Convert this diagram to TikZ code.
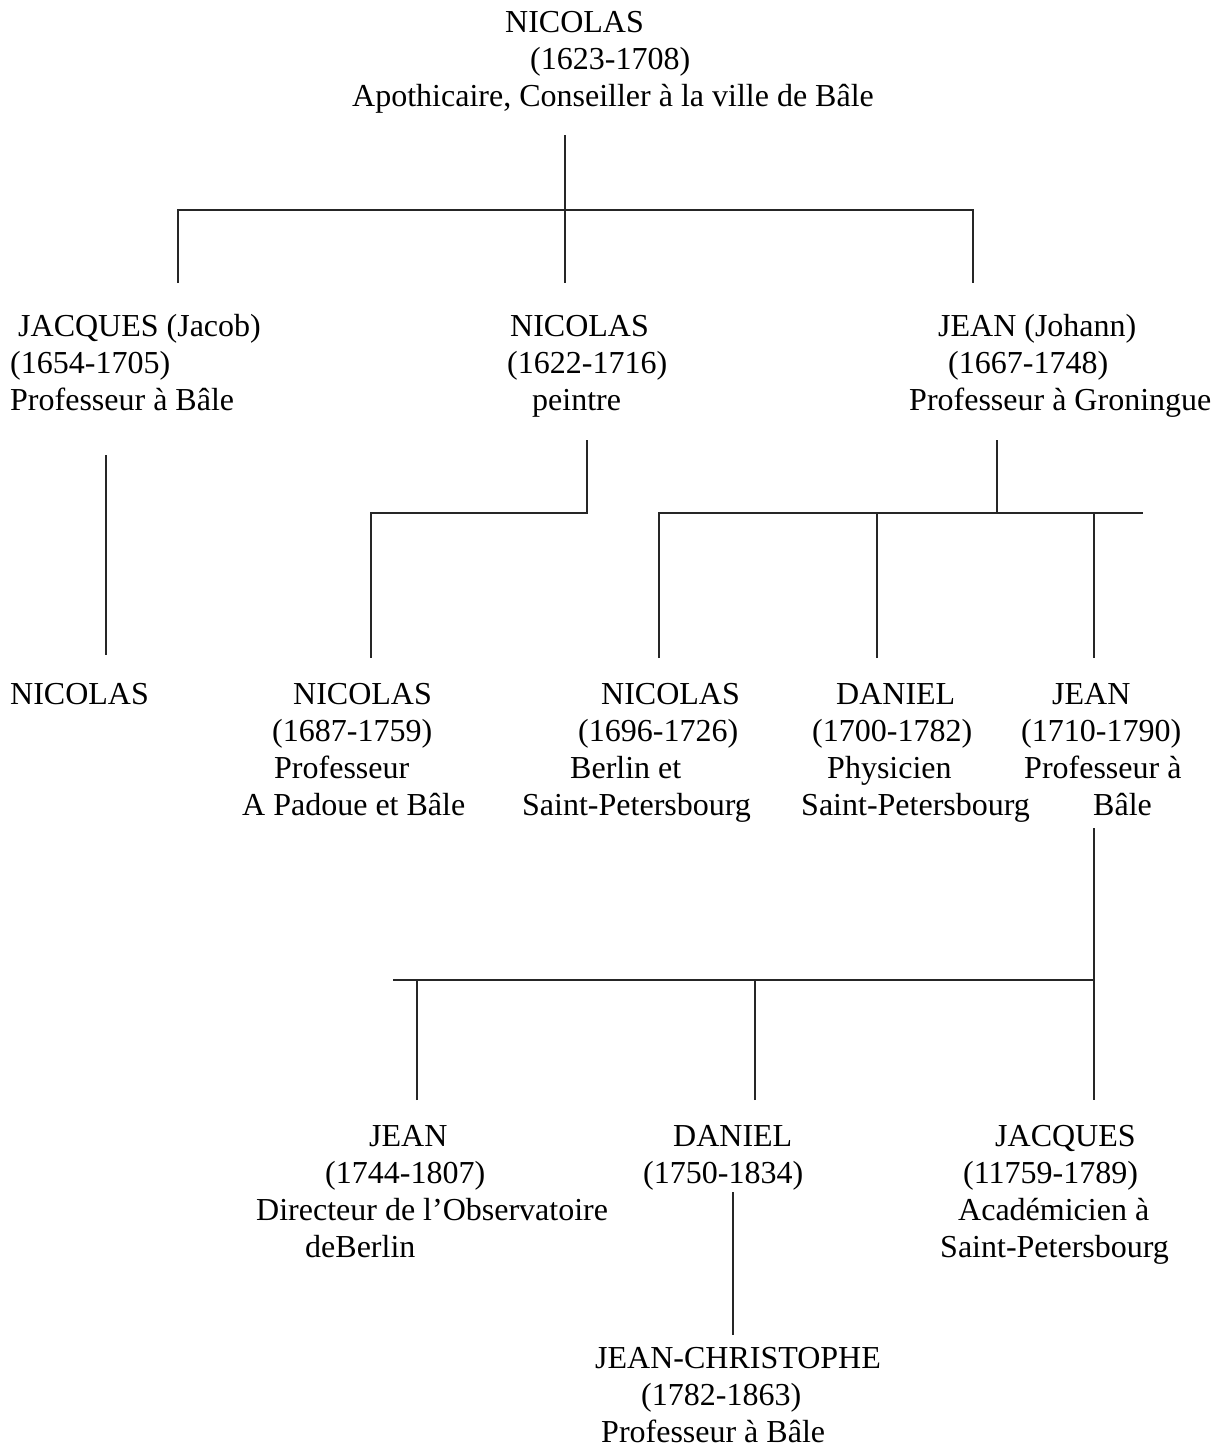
\documentclass[tikz,border=0pt]{standalone}
\usepackage{fontspec}
\setmainfont{Liberation Serif}
\usepackage{tikz}

\begin{document}
\begin{tikzpicture}[x=1pt,y=-1pt,
    person/.style={anchor=base west,align=left,inner sep=0pt,font=\fontsize{32}{37}\selectfont},
    link/.style={line width=1.6pt,draw=black!85}
  ]
    \useasboundingbox (0,0) rectangle (1224,1448);
    % generation 1 (placed at the baseline of the last line)
    \node[person] (top) at (352,106) {\hspace*{153pt}NICOLAS\\\hspace*{178pt}(1623-1708)\\Apothicaire, Conseiller à la ville de Bâle};
    % generation 2
    \node[person] (jacques) at (10,410) {\hspace*{8pt}JACQUES (Jacob)\\(1654-1705)\\Professeur à Bâle};
    \node[person] (nicolas1) at (507,410) {\hspace*{3pt}NICOLAS\\(1622-1716)\\\hspace*{25pt}peintre};
    \node[person] (jean1) at (909,410) {\hspace*{29pt}JEAN (Johann)\\\hspace*{39pt}(1667-1748)\\Professeur à Groningue};
    % generation 3
    \node[person] (nicolas2) at (10,704) {NICOLAS};
    \node[person] (nicolas3) at (242,815) {\hspace*{51pt}NICOLAS\\\hspace*{30pt}(1687-1759)\\\hspace*{32pt}Professeur\\A Padoue et Bâle};
    \node[person] (nicolas4) at (522,815) {\hspace*{79pt}NICOLAS\\\hspace*{56pt}(1696-1726)\\\hspace*{48pt}Berlin et\\Saint-Petersbourg};
    \node[person] (daniel1) at (801,815) {\hspace*{35pt}DANIEL\\\hspace*{11pt}(1700-1782)\\\hspace*{26pt}Physicien\\Saint-Petersbourg};
    \node[person] (jean2) at (1021,815) {\hspace*{31pt}JEAN\\(1710-1790)\\\hspace*{3pt}Professeur à\\\hspace*{72pt}Bâle};
    % generation 4
    \node[person] (jean3) at (256,1257) {\hspace*{113pt}JEAN\\\hspace*{69pt}(1744-1807)\\Directeur de l’Observatoire\\\hspace*{49pt}deBerlin};
    \node[person] (daniel2) at (643,1183) {\hspace*{30pt}DANIEL\\(1750-1834)};
    \node[person] (jacques2) at (940,1257) {\hspace*{55pt}JACQUES\\\hspace*{23pt}(11759-1789)\\\hspace*{18pt}Académicien à\\Saint-Petersbourg};
    % generation 5
    \node[person] (jeanchr) at (595,1442) {JEAN-CHRISTOPHE\\\hspace*{46pt}(1782-1863)\\\hspace*{6pt}Professeur à Bâle};

    % line ends
    \coordinate (top-out) at (565,135);
    \coordinate (jacques-in) at (178,283);
    \coordinate (nicolas1-in) at (565,283);
    \coordinate (jean1-in) at (973,283);
    \coordinate (jacques-out) at (106,455);
    \coordinate (nicolas2-in) at (106,655);
    \coordinate (nicolas1-out) at (587,440);
    \coordinate (nicolas3-in) at (371,658);
    \coordinate (jean1-out) at (997,440);
    \coordinate (nicolas4-in) at (659,658);
    \coordinate (daniel1-in) at (877,658);
    \coordinate (jean2-in) at (1094,658);
    \coordinate (bar-right) at (1143,513);
    \coordinate (jean2-out) at (1094,828);
    \coordinate (bar-left) at (393,980);
    \coordinate (jean3-in) at (417,1100);
    \coordinate (daniel2-in) at (755,1100);
    \coordinate (jacques2-in) at (1094,1100);
    \coordinate (daniel2-out) at (733,1192);
    \coordinate (jeanchr-in) at (733,1335);

    % links
    \draw[link] (top-out) -- (nicolas1-in);
    \draw[link] (jacques-in) -- ++(0,-73) -| (jean1-in);
    \draw[link] (jacques-out) -- (nicolas2-in);
    \draw[link] (nicolas1-out) -- ++(0,73) -| (nicolas3-in);
    \draw[link] (jean1-out) -- ++(0,73);
    \draw[link] (nicolas4-in) |- (bar-right);
    \draw[link] (daniel1-in) -- (daniel1-in |- bar-right);
    \draw[link] (jean2-in) -- (jean2-in |- bar-right);
    \draw[link] (jean2-out) -- (jacques2-in);
    \draw[link] (bar-left) -- (bar-left -| jean2-out);
    \draw[link] (jean3-in) -- (jean3-in |- bar-left);
    \draw[link] (daniel2-in) -- (daniel2-in |- bar-left);
    \draw[link] (daniel2-out) -- (jeanchr-in);
\end{tikzpicture}
\end{document}
